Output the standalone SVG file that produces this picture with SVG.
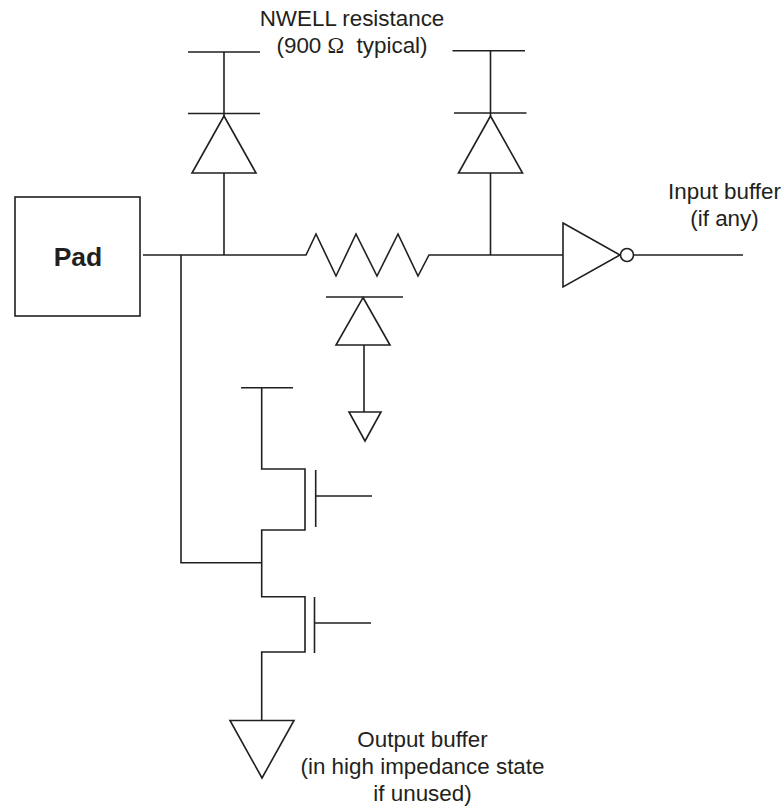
<svg xmlns="http://www.w3.org/2000/svg" width="784" height="808" viewBox="0 0 784 808">
<style>
.l{fill:none;stroke:#231f20;stroke-width:1.6;stroke-linejoin:miter}
.s{fill:#fff;stroke:#231f20;stroke-width:1.6}
text{font-family:"Liberation Sans",Arial,sans-serif;font-size:22.400px;fill:#231f20;text-anchor:middle;white-space:pre}
.b{font-weight:bold;font-size:26.500px}
.o{font-family:"Liberation Serif",serif}
</style>
<rect width="784" height="808" fill="#fff"/>
<g id="connectors">
<path class="l" d="M143 255H306L316 234L336 276L356 234L377 276L398 234L418 276L429 255H563"/>
<path class="l" d="M634 255H743"/>
<path class="l" d="M181 255V562.700H261.700"/>
<path class="l" d="M224 52V116M224 173V255"/>
<path class="l" d="M490.500 51V116M490.500 173V255"/>
<path class="l" d="M364 345V412"/>
<path class="l" d="M261.700 387.700V469H305V530H261.700V596.700H305V652H261.700V720"/>
</g>
<g id="pad"><rect class="s" x="15" y="197" width="125" height="119"/><text class="b" x="78" y="266">Pad</text></g>
<g id="diode-left"><path class="l" d="M188 52H260M188 113.500H260"/><path class="s" d="M224 116L256 173H192Z"/></g>
<g id="diode-right"><path class="l" d="M452.500 50.700H525M454 113H526.500"/><path class="s" d="M490.500 116L522.500 173H458.500Z"/></g>
<g id="diode-lower"><path class="l" d="M326 297H403"/><path class="s" d="M363 297.500L390 345H336Z"/><path class="s" d="M349 412H381L365 441Z"/></g>
<g id="inverter"><path class="s" d="M563 223L620 255L563 287Z"/><circle class="s" cx="627" cy="255" r="6.500"/></g>
<g id="transistor-top"><path class="l" d="M241 387.700H293"/><path class="l" d="M315.700 470V527M315.700 496H372"/></g>
<g id="transistor-bottom"><path class="l" d="M314.500 597V653M314.500 623H371"/><path class="s" d="M230 720.500H294L262 778Z"/></g>
<g id="label-nwell"><text x="352" y="26">NWELL resistance</text><text x="352" y="53">(900 <tspan class="o">Ω</tspan>  typical)</text></g>
<g id="label-input"><text x="724.500" y="199">Input buffer</text><text x="724.500" y="226">(if any)</text></g>
<g id="label-output"><text x="422.500" y="747">Output buffer</text><text x="422.500" y="774">(in high impedance state</text><text x="422.500" y="801">if unused)</text></g>
</svg>
